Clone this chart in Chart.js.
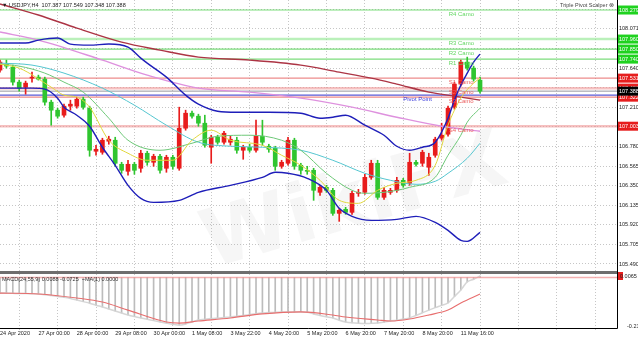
<!DOCTYPE html>
<html>
<head>
<meta charset="utf-8">
<script src="https://cdn.jsdelivr.net/npm/chart.js@4.4.0/dist/chart.umd.min.js"></script>
<style>
  html, body { margin: 0; padding: 0; background: #fff; overflow: hidden; }
  #wrap { position: relative; width: 638px; height: 339px; }
  #main { position: absolute; left: 0; top: 0; }
  #sub { position: absolute; left: 0; top: 272px; }
</style>
</head>
<body>
<div id="wrap">
  <canvas id="main" width="638" height="272"></canvas>
  <canvas id="sub" width="638" height="67"></canvas>
</div>
<script>
// ---- data ----
const tickLabels = ['24 Apr 2020', '27 Apr 00:00', '28 Apr 00:00', '29 Apr 08:00', '30 Apr 00:00',
  '1 May 08:00', '3 May 22:00', '4 May 20:00', '5 May 20:00', '6 May 20:00', '7 May 20:00',
  '8 May 20:00', '11 May 16:00'];
const priceTicks = [105.490, 105.705, 105.920, 106.135, 106.350, 106.565, 106.780, 106.995,
  107.210, 107.425, 107.640, 107.856, 108.071, 108.286];

const opens = [107.619,107.685,107.652,107.487,107.432,107.531,107.542,107.520,107.267,107.179,
  107.124,107.223,107.223,107.300,107.201,106.728,106.717,106.838,106.849,106.585,
  106.508,106.585,106.541,106.706,106.607,106.673,106.541,106.662,106.541,106.981,
  107.146,107.113,107.036,106.772,106.882,106.827,106.827,106.849,106.739,106.772,
  106.739,106.893,106.783,106.761,106.563,106.596,106.849,106.574,106.519,106.519,
  106.277,106.332,106.299,106.046,106.090,106.057,106.266,106.277,106.442,106.596,
  106.222,106.277,106.299,106.409,106.376,106.607,106.596,106.552,106.684,106.871,
  106.915,107.212,107.465,107.707,107.641,107.509];
const highs = [107.729,107.729,107.674,107.509,107.498,107.597,107.564,107.542,107.289,107.201,
  107.245,107.289,107.322,107.322,107.223,106.794,106.871,106.893,106.882,106.607,
  106.629,106.607,106.739,106.728,106.695,106.695,106.684,106.684,107.212,107.179,
  107.168,107.135,107.124,106.904,106.904,106.948,106.893,106.882,106.794,106.805,
  107.069,107.069,106.805,106.783,106.629,106.882,106.871,106.596,106.563,106.541,
  106.354,106.354,106.321,106.101,106.112,106.288,106.310,106.475,106.629,106.629,
  106.332,106.321,106.442,106.431,106.706,106.629,106.739,106.706,106.882,107.036,
  107.223,107.487,107.729,107.762,107.663,107.542];
const lows = [107.597,107.641,107.454,107.388,107.355,107.487,107.509,107.234,107.014,107.091,
  107.102,107.179,107.201,107.190,106.673,106.684,106.695,106.805,106.563,106.486,
  106.464,106.475,106.497,106.574,106.563,106.486,106.497,106.530,106.519,106.959,
  107.091,107.003,106.772,106.596,106.805,106.805,106.794,106.706,106.640,106.717,
  106.717,106.794,106.717,106.519,106.541,106.574,106.530,106.475,106.475,106.189,
  106.244,106.277,106.024,105.958,106.035,106.035,106.233,106.255,106.420,106.200,
  106.200,106.255,106.277,106.332,106.354,106.563,106.563,106.464,106.662,106.849,
  106.893,107.190,107.443,107.619,107.498,107.366];
const closes = [107.707,107.663,107.487,107.421,107.476,107.542,107.520,107.267,107.179,107.113,
  107.223,107.245,107.300,107.212,106.739,106.750,106.849,106.860,106.596,106.519,
  106.585,106.519,106.706,106.607,106.673,106.519,106.662,106.563,106.981,107.146,
  107.113,107.036,106.794,106.882,106.827,106.926,106.860,106.739,106.772,106.739,
  106.893,106.827,106.750,106.563,106.607,106.849,106.563,106.519,106.508,106.299,
  106.332,106.299,106.046,106.079,106.057,106.266,106.277,106.442,106.596,106.222,
  106.299,106.299,106.409,106.354,106.607,106.585,106.717,106.662,106.860,106.904,
  107.201,107.465,107.707,107.641,107.520,107.388];

// indicator lines: bar index + value where read
const bbUpperBars = [0,4,6,9,11,14,17,20,22,23,26,29,31,34,37,42,47,50,52,54,57,60,62,64,66,68,70,71,72,73,74,75];
const bbUpperVals = [107.916,107.916,107.949,107.971,107.905,107.894,107.905,107.872,107.751,107.696,
  107.542,107.344,107.245,107.168,107.157,107.157,107.146,107.091,107.102,107.124,
  107.014,106.904,106.783,106.739,106.772,106.827,107.091,107.289,107.454,107.586,107.707,107.795];
const bbLowerBars = [0,5,7,9,10,12,14,16,18,20,22,24,28,31,36,41,43,45,48,51,53,55,58,62,65,68,70,72,73,75];
const bbLowerVals = [107.421,107.421,107.410,107.311,107.212,107.124,107.003,106.772,106.574,106.354,
  106.211,106.167,106.189,106.277,106.354,106.442,106.497,106.486,106.431,106.299,
  106.101,106.013,105.969,105.980,106.013,105.947,105.859,105.749,105.738,105.837];
const slowMaBars = [0,6,12,19,25,31,39,47,53,58,62,67,71,75];
const slowMaVals = [108.345,108.224,108.081,107.927,107.839,107.762,107.729,107.674,107.597,107.531,107.465,107.377,107.333,107.289];
const pinkMaBars = [0,6,16,23,31,39,47,55,62,69,75];
const pinkMaVals = [108.037,107.949,107.729,107.564,107.421,107.377,107.311,107.212,107.102,107.003,106.948];
const cyanMaBars = [0,5,10,16,21,26,31,36,41,47,52,57,61,65,68,70,73,75];
const cyanMaVals = [107.696,107.674,107.586,107.421,107.234,107.014,106.827,106.783,106.772,106.739,
  106.629,106.486,106.409,106.365,106.398,106.486,106.651,106.816];
const greenMaBars = [0,3,7,10,13,17,20,25,30,34,39,44,47,51,55,57,60,64,68,70,72,73,75];
const greenMaVals = [107.685,107.663,107.586,107.487,107.377,107.091,106.849,106.739,106.816,106.893,
  106.904,106.849,106.739,106.486,106.299,106.266,106.277,106.332,106.442,106.684,106.904,107.047,107.201];
const yellowMaBars = [0,3,8,10,12,14,17,20,23,27,30,33,36,41,44,47,50,53,56,59,62,65,68,70,72,74,75];
const yellowMaVals = [107.685,107.641,107.432,107.344,107.322,107.212,106.849,106.706,106.629,106.629,
  106.849,106.959,106.849,106.794,106.684,106.574,106.409,106.189,106.156,106.299,
  106.376,106.409,106.574,107.014,107.311,107.476,107.531];

// pivot levels
const levelNames = ['R4 Camo', 'R3 Camo', 'R2 Camo', 'R1 Camo', 'S1 Camo', 'S2 Camo', 'S3 Camo', 'S4 Camo'];
const levelPrices = [108.279, 107.960, 107.850, 107.740, 107.531, 107.421, 107.322, 107.003];
const pivotPrice = 107.344;
const lastPrice = 107.388;

// MACD panel
const macdHist = [-0.070,-0.070,-0.071,-0.072,-0.072,-0.073,-0.074,-0.077,-0.081,-0.085,
  -0.089,-0.094,-0.101,-0.108,-0.115,-0.124,-0.132,-0.141,-0.150,-0.159,
  -0.168,-0.175,-0.181,-0.187,-0.193,-0.199,-0.204,-0.209,-0.213,-0.208,
  -0.199,-0.190,-0.187,-0.184,-0.181,-0.179,-0.177,-0.173,-0.170,-0.166,
  -0.162,-0.159,-0.157,-0.156,-0.155,-0.155,-0.154,-0.154,-0.156,-0.163,
  -0.170,-0.176,-0.181,-0.191,-0.199,-0.203,-0.205,-0.206,-0.205,-0.204,
  -0.200,-0.195,-0.191,-0.186,-0.181,-0.170,-0.158,-0.146,-0.135,-0.125,
  -0.114,-0.085,-0.056,-0.020,-0.008,0.0065];
const signalBars = [0,6,12,16,20,26,28,31,36,41,47,52,54,59,61,64,67,70,72,75];
const signalVals = [-0.070,-0.074,-0.092,-0.110,-0.146,-0.199,-0.204,-0.195,-0.181,-0.163,
  -0.154,-0.168,-0.177,-0.190,-0.195,-0.186,-0.168,-0.146,-0.114,-0.074];

// ---- chart setup ----
Chart.defaults.font.family = '"Liberation Sans", Arial, sans-serif';
Chart.defaults.font.size = 5.5;
Chart.defaults.color = '#222';

const X_MAX = 96.4;
const gridBars = [];
for (let b = 0; b <= 96; b += 6) gridBars.push(b);

const BULL = '#e81c1c';
const BEAR = '#2fc52f';
const candleColors = opens.map((o, i) => closes[i] >= o ? BULL : BEAR);

function pts(bars, vals) {
  return bars.map((b, k) => ({ x: b, y: vals[k] }));
}
function lineDs(data, color, width, order) {
  return { type: 'line', data, borderColor: color, borderWidth: width, pointRadius: 0,
    cubicInterpolationMode: 'monotone', order };
}
function levelDs(price, color, width) {
  return { type: 'line', data: [{ x: 0, y: price }, { x: X_MAX, y: price }],
    borderColor: color, borderWidth: width, pointRadius: 0, order: 30 };
}
function noPad(s) { s.paddingTop = 0; s.paddingBottom = 0; s.paddingLeft = 0; s.paddingRight = 0; }

const levelDatasets = levelPrices.map((p, i) => {
  if (i < 4) return levelDs(p, i === 1 ? 'rgba(140,230,140,0.6)' : 'rgba(80,210,80,0.75)', i === 1 ? 2.5 : 1.2);
  return levelDs(p, (i === 5 || i === 7) ? 'rgba(240,150,150,0.6)' : 'rgba(232,110,110,0.8)', (i === 5 || i === 7) ? 2.5 : 1.2);
});

const mainDecor = {
  id: 'mainDecor',
  beforeDatasetsDraw(chart) {
    const { ctx, chartArea: a } = chart;
    ctx.save();
    ctx.beginPath();
    ctx.rect(a.left, a.top, a.right - a.left, a.bottom - a.top);
    ctx.clip();
    ctx.translate(355, 205);
    ctx.rotate(-0.28);
    ctx.font = 'bold 80px "DejaVu Sans"';
    ctx.fillStyle = 'rgba(150,150,150,0.09)';
    ctx.textAlign = 'center';
    ctx.textBaseline = 'middle';
    ctx.fillText('WikiFX', 0, 0);
    ctx.restore();
  },
  afterDraw(chart) {
    const { ctx, chartArea: a, scales } = chart;
    const x = scales.x, y = scales.y;
    ctx.save();
    // level captions
    ctx.font = '6px "Liberation Sans"';
    ctx.textAlign = 'left';
    ctx.textBaseline = 'top';
    levelPrices.forEach((p, i) => {
      ctx.fillStyle = i < 4 ? 'rgb(100,215,100)' : 'rgb(235,95,95)';
      ctx.fillText(levelNames[i], x.getPixelForValue(70.1), y.getPixelForValue(p) + 1);
    });
    ctx.fillStyle = 'rgb(60,60,220)';
    ctx.fillText('Pivot Point', x.getPixelForValue(63), y.getPixelForValue(pivotPrice) + 1);

    // right axis price boxes
    ctx.font = '5.5px "Liberation Sans"';
    ctx.textBaseline = 'middle';
    const box = (p, bg) => {
      const py = y.getPixelForValue(p);
      ctx.fillStyle = bg;
      ctx.fillRect(a.right + 1, py - 4.5, 30, 9);
      ctx.fillStyle = '#fff';
      ctx.fillText(p.toFixed(3), a.right + 2, py);
    };
    levelPrices.forEach((p, i) => box(p, i < 4 ? '#1fd21f' : '#e61e1e'));
    box(lastPrice, '#000');

    // axis line
    ctx.strokeStyle = '#000';
    ctx.lineWidth = 1;
    ctx.beginPath();
    ctx.moveTo(a.right + 0.5, 0);
    ctx.lineTo(a.right + 0.5, a.bottom);
    ctx.stroke();

    // captions
    ctx.fillStyle = '#222';
    ctx.textBaseline = 'middle';
    ctx.fillText('\u25BC USDJPY,H4  107.387 107.549 107.348 107.388', 2, 5);
    ctx.textAlign = 'right';
    ctx.fillStyle = '#444';
    ctx.fillText('Triple Pivot Scalper \u2297', a.right - 3, 5);

    // separator
    ctx.fillStyle = '#6e6e6e';
    ctx.fillRect(0, a.bottom - 1, a.right, 2);
    ctx.restore();
  }
};

new Chart(document.getElementById('main'), {
  type: 'bar',
  data: {
    datasets: [
      { type: 'bar', data: opens.map((o, i) => ({ x: i, y: [lows[i], highs[i]] })),
        backgroundColor: candleColors, barThickness: 1, grouped: false, order: 12 },
      { type: 'bar', data: opens.map((o, i) => ({ x: i, y: [o, closes[i]] })),
        backgroundColor: candleColors, barThickness: 4, grouped: false, minBarLength: 1, order: 11 },
      lineDs(pts(slowMaBars, slowMaVals), 'rgb(172,52,68)', 1.4, 5),
      lineDs(pts(pinkMaBars, pinkMaVals), 'rgb(222,145,222)', 1.4, 5),
      lineDs(pts(cyanMaBars, cyanMaVals), 'rgb(85,198,208)', 1, 4),
      lineDs(pts(greenMaBars, greenMaVals), 'rgb(110,200,120)', 1, 3),
      lineDs(pts(yellowMaBars, yellowMaVals), 'rgb(225,215,60)', 1, 2),
      lineDs(pts(bbUpperBars, bbUpperVals), 'rgb(30,30,185)', 1.4, 1),
      lineDs(pts(bbLowerBars, bbLowerVals), 'rgb(30,30,185)', 1.4, 1),
      ...levelDatasets,
      levelDs(lastPrice, 'rgba(140,140,150,0.9)', 1),
      levelDs(pivotPrice, 'rgba(70,70,210,0.9)', 1.2)
    ]
  },
  options: {
    responsive: false,
    animation: false,
    events: [],
    layout: { padding: 0, autoPadding: false },
    plugins: { legend: { display: false }, tooltip: { enabled: false } },
    scales: {
      x: {
        type: 'linear', min: 0, max: X_MAX, offset: false,
        afterBuildTicks: s => { s.ticks = gridBars.map(v => ({ value: v })); },
        afterFit: s => { s.height = 0; noPad(s); },
        ticks: { display: false },
        grid: { color: '#c6c6c6', drawTicks: false },
        border: { display: false, dash: [1, 2] }
      },
      y: {
        position: 'right', min: 105.402, max: 108.389,
        afterBuildTicks: s => { s.ticks = priceTicks.map(v => ({ value: v })); },
        afterFit: s => { s.width = 21; noPad(s); },
        ticks: { padding: 2, callback: v => v.toFixed(3) },
        grid: { color: '#c6c6c6', drawTicks: false },
        border: { display: false, dash: [1, 2] }
      }
    }
  },
  plugins: [mainDecor]
});

const subDecor = {
  id: 'subDecor',
  afterDraw(chart) {
    const { ctx, chartArea: a, scales } = chart;
    ctx.save();
    ctx.fillStyle = '#6e6e6e';
    ctx.fillRect(0, 0, a.right, 2);
    ctx.strokeStyle = '#000';
    ctx.lineWidth = 1;
    ctx.beginPath();
    ctx.moveTo(a.right + 0.5, 0);
    ctx.lineTo(a.right + 0.5, a.bottom + 0.5);
    ctx.lineTo(0, a.bottom + 0.5);
    ctx.stroke();
    ctx.font = '5.5px "Liberation Sans"';
    ctx.textBaseline = 'middle';
    ctx.fillStyle = '#333';
    ctx.fillText('MACD(24,55,9) 0.0088 -0.0725  ~MA(1) 0.0000', 2, 7);
    const py = scales.y.getPixelForValue(0.0065);
    ctx.fillStyle = '#e61e1e';
    ctx.fillRect(a.right + 1, py - 4, 5, 8);
    ctx.fillStyle = '#222';
    ctx.fillText('0.0065', a.right + 3, py);
    ctx.restore();
  }
};

new Chart(document.getElementById('sub'), {
  type: 'bar',
  data: {
    datasets: [
      { type: 'bar', data: macdHist.map((v, i) => ({ x: i, y: v })), backgroundColor: '#bcbcbc',
        barThickness: 1, grouped: false, order: 4 },
      lineDs(macdHist.map((v, i) => ({ x: i, y: v })), 'rgba(210,210,210,0.9)', 1.5, 3),
      lineDs(pts(signalBars, signalVals), 'rgb(232,110,110)', 1.1, 2),
      { type: 'line', data: [{ x: 0, y: 0 }, { x: X_MAX, y: 0 }], borderColor: 'rgba(240,150,150,0.75)',
        borderWidth: 1.5, pointRadius: 0, order: 1 }
    ]
  },
  options: {
    responsive: false,
    animation: false,
    events: [],
    layout: { padding: { top: 2, left: 0, right: 0, bottom: 0 }, autoPadding: false },
    plugins: { legend: { display: false }, tooltip: { enabled: false } },
    scales: {
      x: {
        type: 'linear', min: 0, max: X_MAX, offset: false,
        afterBuildTicks: s => { s.ticks = gridBars.map(v => ({ value: v })); },
        afterFit: s => { s.height = 11; noPad(s); },
        ticks: { align: 'start', padding: 0, autoSkip: false, maxRotation: 0,
          callback: (v, i) => tickLabels[i] || '' },
        grid: { color: '#c6c6c6', tickLength: 2 },
        border: { display: false, dash: [1, 2] }
      },
      y: {
        position: 'right', min: -0.226, max: 0.0154,
        afterBuildTicks: s => { s.ticks = [{ value: -0.217 }]; },
        afterFit: s => { s.width = 21; noPad(s); },
        ticks: { padding: 2, callback: () => '-0.217' },
        grid: { display: false },
        border: { display: false }
      }
    }
  },
  plugins: [subDecor]
});
</script>
</body>
</html>
